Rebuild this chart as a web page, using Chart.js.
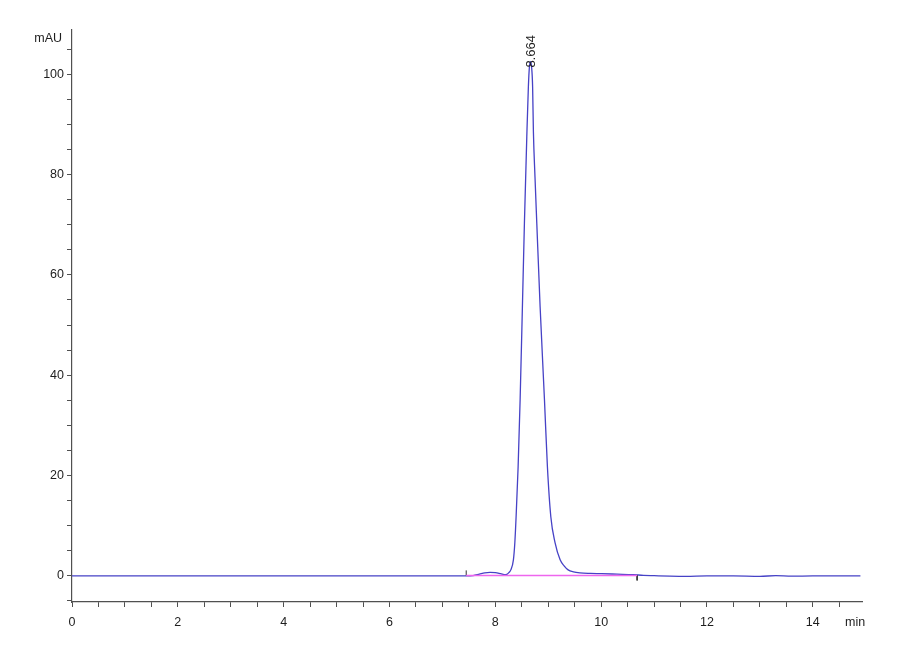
<!DOCTYPE html>
<html>
<head>
<meta charset="utf-8">
<script src="https://cdn.jsdelivr.net/npm/chart.js@4.4.1/dist/chart.umd.min.js"></script>
<style>
  html, body { margin: 0; padding: 0; background: #fff; }
  #wrap { width: 900px; height: 660px; position: relative; }
</style>
</head>
<body>
<div id="wrap"><canvas id="chrom"></canvas></div>
<script>
// retention time (min) and detector signal (mAU)
const times = [0, 1, 3, 5, 7, 7.45, 7.58, 7.7, 7.8, 7.9, 8.0, 8.1, 8.19, 8.217, 8.26, 8.293,
  8.342, 8.369, 8.393, 8.431, 8.469, 8.512, 8.55, 8.595, 8.625, 8.645, 8.664, 8.685, 8.705,
  8.72, 8.75, 8.784, 8.847, 8.929, 8.985, 9.049, 9.13, 9.225, 9.3, 9.376, 9.477, 9.6, 9.8, 10.0,
  10.3, 10.6, 10.8, 11.0, 11.3, 11.6, 12.0, 12.5, 13.0, 13.3, 13.6, 14.0, 14.9];
const signal = [0, 0, 0, 0, 0, 0, 0.05, 0.35, 0.6, 0.7, 0.65, 0.45, 0.25, 0.3, 0.7, 1.2,
  3.2, 6.6, 11.8, 21.7, 35.1, 53.6, 70.3, 87.5, 97.5, 101.5, 102.5, 101.5, 97.5,
  88.5, 79.5, 70.3, 53.6, 35.1, 21.7, 11.8, 6.6, 3.2, 2.0, 1.2, 0.8, 0.6, 0.5, 0.45,
  0.35, 0.25, 0.12, 0.05, -0.05, -0.1, 0, 0, -0.08, 0.05, -0.05, 0, 0];

// integration baseline and its start / end marks
const baseTimes = [7.45, 10.68];
const baseValues = [0.1, 0.1];
const startMark = [0.1, 1.1];
const endMark = [0.1, -0.9];

const peakTime = 8.664;
const peakHeight = 102.5;
const peakLabel = '8.664';

const xTickLabels = [0, 2, 4, 6, 8, 10, 12, 14];
const yTickLabels = [0, 20, 40, 60, 80, 100];

const pts = (xs, ys) => xs.map((x, i) => ({ x, y: ys[i] }));

const textColor = '#1e1e1e';
const axisColor = '#505050';
const fontFamily = '"Liberation Sans", Arial, sans-serif';

const peakLabelPlugin = {
  id: 'peakLabel',
  afterDatasetsDraw(chart) {
    const { ctx, scales } = chart;
    const px = scales.x.getPixelForValue(peakTime);
    const py = scales.y.getPixelForValue(peakHeight);
    ctx.save();
    ctx.fillStyle = textColor;
    ctx.font = '13px ' + fontFamily;
    ctx.translate(px + 5, py + 6);
    ctx.rotate(-Math.PI / 2);
    ctx.textAlign = 'left';
    ctx.textBaseline = 'alphabetic';
    ctx.fillText(peakLabel, 0, 0);
    ctx.restore();

    // unit labels
    ctx.save();
    ctx.fillStyle = textColor;
    ctx.font = '12.5px ' + fontFamily;
    ctx.textAlign = 'right';
    ctx.textBaseline = 'middle';
    ctx.fillText('mAU', scales.y.left + scales.y.width - 10, scales.y.top + 9);
    ctx.textAlign = 'left';
    ctx.textBaseline = 'middle';
    ctx.fillText('min', scales.x.right - 17, scales.x.top + 21);
    ctx.restore();
  }
};

new Chart(document.getElementById('chrom'), {
  type: 'line',
  data: {
    datasets: [
      {
        label: 'baseline',
        data: pts(baseTimes, baseValues),
        borderColor: '#ee66ee',
        borderWidth: 1.5,
        pointRadius: 0
      },
      {
        label: 'start',
        data: pts([baseTimes[0], baseTimes[0]], startMark),
        borderColor: '#333',
        borderWidth: 1,
        pointRadius: 0
      },
      {
        label: 'end',
        data: pts([baseTimes[1], baseTimes[1]], endMark),
        borderColor: '#333',
        borderWidth: 1,
        pointRadius: 0
      },
      {
        label: 'signal',
        data: pts(times, signal),
        borderColor: '#4642c6',
        borderWidth: 1.3,
        pointRadius: 0,
        cubicInterpolationMode: 'monotone'
      }
    ]
  },
  options: {
    responsive: true,
    maintainAspectRatio: false,
    animation: false,
    layout: { padding: { left: 0, right: 38, top: 30, bottom: 0 } },
    plugins: {
      legend: { display: false },
      tooltip: { enabled: false }
    },
    scales: {
      x: {
        type: 'linear',
        min: 0,
        max: 14.93,
        afterFit: (scale) => { scale.height = 58; },
        border: { display: true, color: axisColor, width: 1.2 },
        grid: { drawOnChartArea: false, drawTicks: true, tickLength: 5, tickColor: axisColor },
        ticks: {
          stepSize: 0.5,
          includeBounds: false,
          autoSkip: false,
          maxRotation: 0,
          padding: 8,
          color: textColor,
          font: { family: fontFamily, size: 12.5 },
          callback: (v) => (xTickLabels.includes(v) ? String(v) : '')
        }
      },
      y: {
        min: -5.2,
        max: 108.8,
        afterFit: (scale) => { scale.width = 72; },
        border: { display: true, color: axisColor, width: 1.2 },
        grid: { drawOnChartArea: false, drawTicks: true, tickLength: 5, tickColor: axisColor },
        ticks: {
          stepSize: 5,
          includeBounds: false,
          autoSkip: false,
          padding: 3,
          color: textColor,
          font: { family: fontFamily, size: 12.5 },
          callback: (v) => (yTickLabels.includes(v) ? String(v) : '')
        }
      }
    }
  },
  plugins: [peakLabelPlugin]
});
</script>
</body>
</html>
